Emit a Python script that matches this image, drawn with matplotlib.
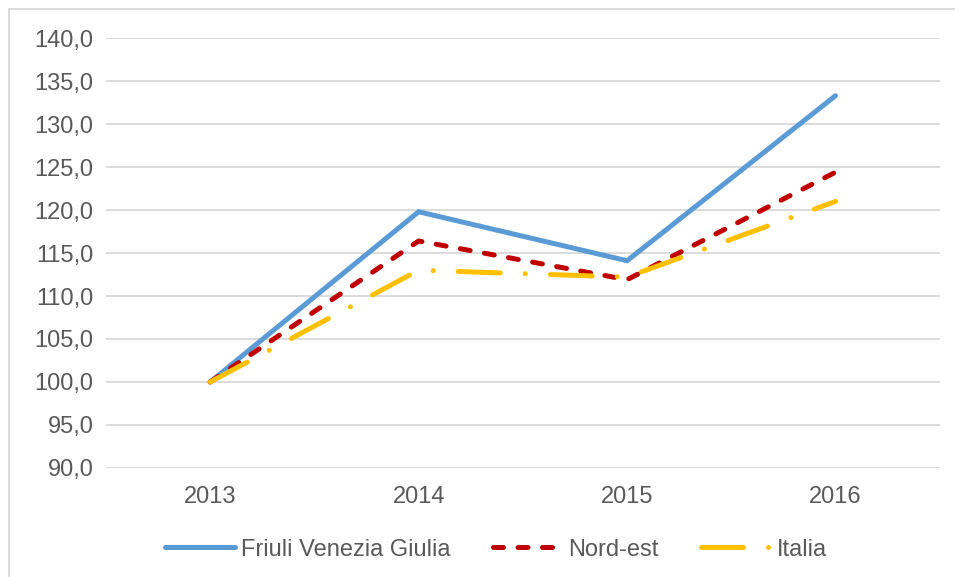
import matplotlib
matplotlib.use("Agg")
import matplotlib.pyplot as plt
from matplotlib.lines import Line2D

plt.rcParams['font.family'] = ['Liberation Sans', 'DejaVu Sans']

anni = ['2013', '2014', '2015', '2016']
fvg = [100.0, 119.8, 114.1, 133.3]
nord_est = [100.0, 116.4, 111.9, 124.4]
italia = [100.0, 113.0, 112.2, 121.0]
tick_y = [90, 95, 100, 105, 110, 115, 120, 125, 130, 135, 140]

fig = plt.figure(figsize=(9.55, 5.77), dpi=100)
ax = fig.add_axes([0.111, 0.189, 0.873, 0.745])

x = range(len(anni))
lw = 3.6
ax.plot(x, fvg, color='#5B9BD5', lw=lw, solid_capstyle='round', solid_joinstyle='miter',
        label='Friuli Venezia Giulia', zorder=3)
ax.plot(x, nord_est, color='#C00000', lw=lw, dashes=(2.0, 2.9), dash_capstyle='round',
        label='Nord-est', zorder=4)
ax.plot(x, italia, color='#FFC000', lw=lw, dashes=(8.4, 5, 0.01, 5), dash_capstyle='round',
        label='Italia', zorder=5)

ax.set_xlim(-0.5, len(anni) - 0.5)
ax.set_ylim(90, 140)
ax.set_xticks(list(x))
ax.set_xticklabels(anni)
ax.set_yticks(tick_y)
ax.set_yticklabels([f"{v:.1f}".replace('.', ',') for v in tick_y])
ax.grid(axis='y', color='#D9D9D9', lw=1.3)
ax.set_axisbelow(True)
for s in ax.spines.values():
    s.set_visible(False)
ax.tick_params(length=0, labelsize=17, colors='#595959')
ax.tick_params(axis='y', pad=9)
ax.tick_params(axis='x', pad=13)

leg = ax.legend(loc='center', bbox_to_anchor=(0.468, -0.19), ncol=3, frameon=False,
                fontsize=17, handlelength=2.95, columnspacing=1.8, handletextpad=0.25)
for t in leg.get_texts():
    t.set_color('#595959')

# bordo esterno del grafico
fig.add_artist(Line2D([0.009, 0.009], [0, 0.984], color='#D9D9D9', lw=1.3))
fig.add_artist(Line2D([0.009, 1], [0.984, 0.984], color='#D9D9D9', lw=1.3))

fig.savefig('out.png', dpi=100)
